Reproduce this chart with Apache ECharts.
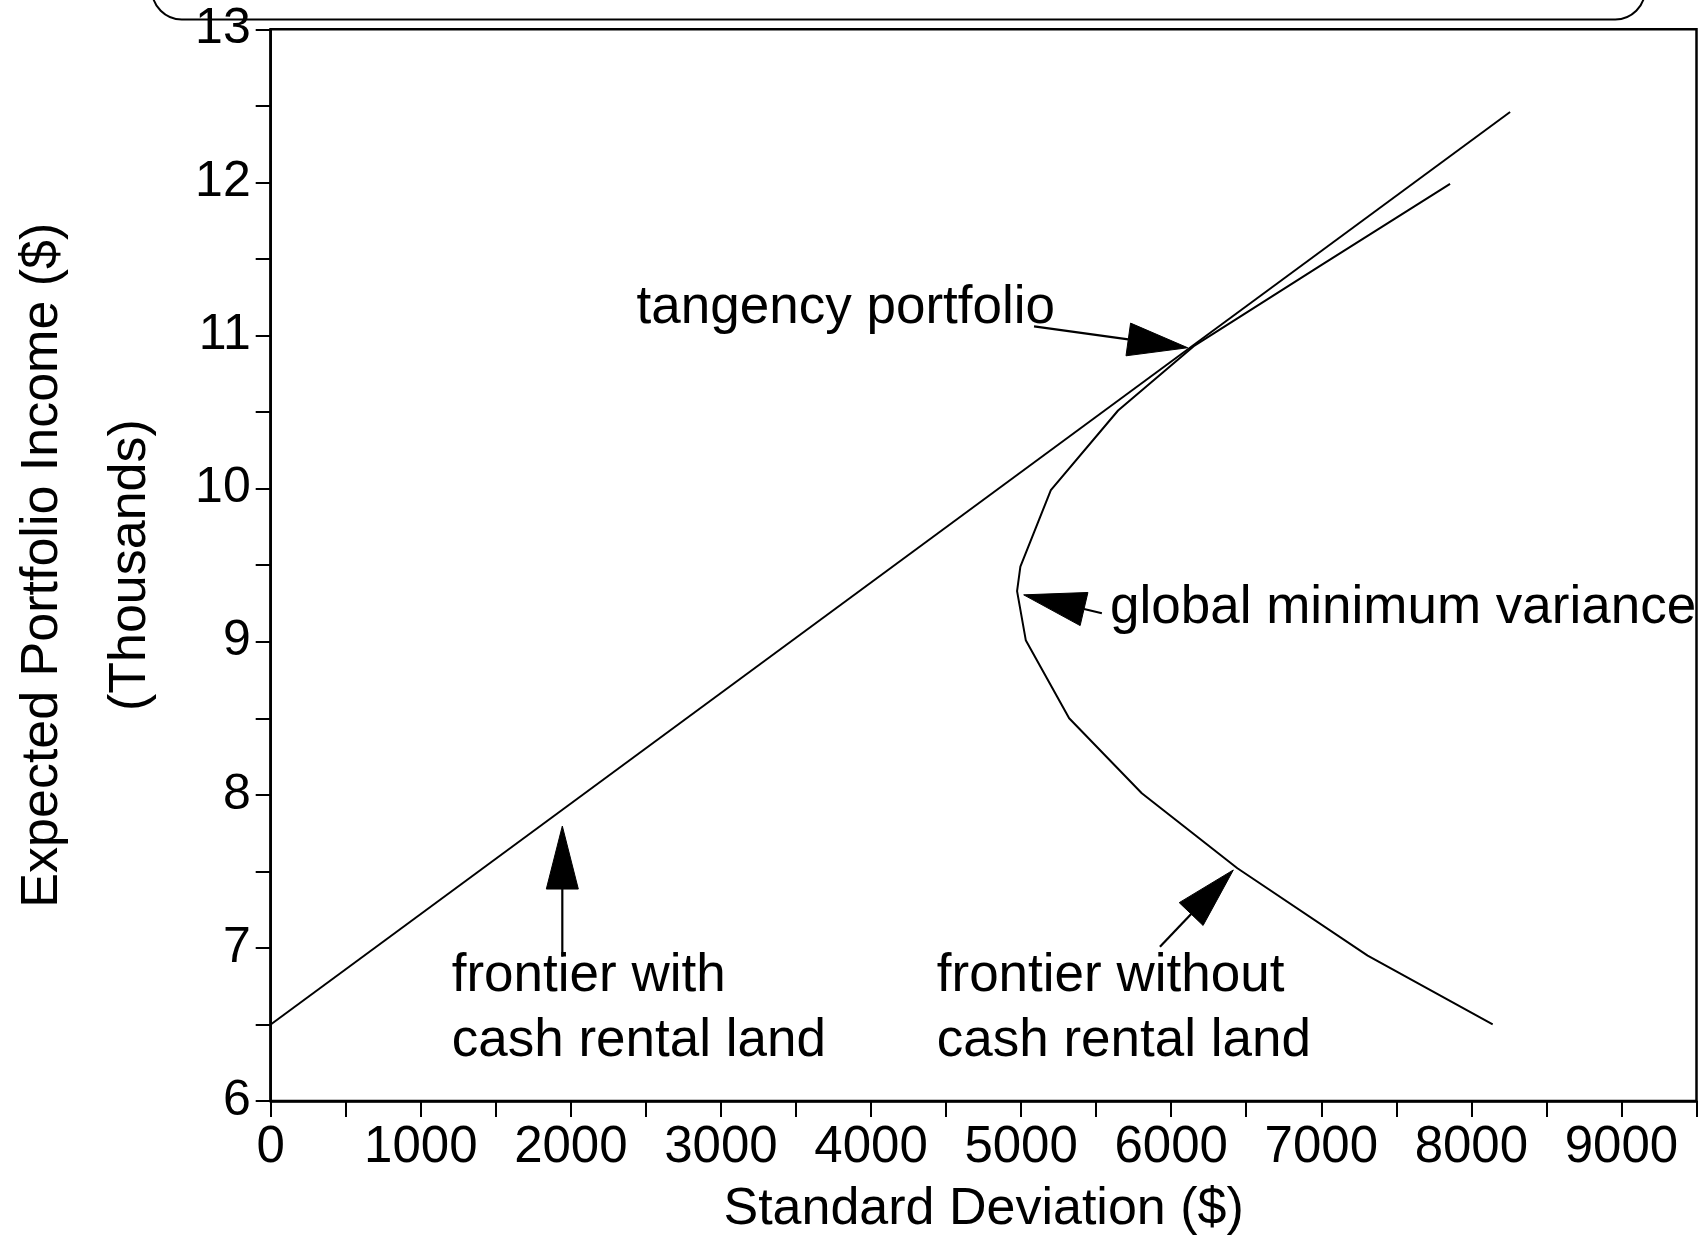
<!DOCTYPE html>
<html>
<head>
<meta charset="utf-8">
<script src="https://cdn.jsdelivr.net/npm/echarts@6/dist/echarts.min.js"></script>
<style>
html,body{margin:0;padding:0;background:#fff;}
#chart{width:1702px;height:1241px;}
</style>
</head>
<body>
<div id="chart"></div>
<script>
// ---- data ----
const xTickValues = [0, 1000, 2000, 3000, 4000, 5000, 6000, 7000, 8000, 9000];
const yTickValues = [6, 7, 8, 9, 10, 11, 12, 13];

// frontier with cash rental land (straight line)
const withLandX = [0, 8258];
const withLandY = [6.5, 12.46];

// frontier without cash rental land
const withoutLandX = [8142, 7309, 6441, 5804, 5320, 5031, 4973, 4995, 5198, 5646, 6150, 6984, 7858];
const withoutLandY = [6.50, 6.95, 7.52, 8.01, 8.50, 9.01, 9.33, 9.49, 9.99, 10.51, 10.93, 11.45, 11.99];

// annotation texts and anchor points (left edge, vertical centre)
const noteTexts = ['tangency portfolio', 'global minimum variance', 'frontier with\ncash rental land', 'frontier without\ncash rental land'];
const noteX = [2438, 5592, 1206, 4438];
const noteY = [11.18, 9.22, 6.60, 6.60];

// arrows: tail -> tip
const arrowTailX = [5086, 5538, 1943, 5925];
const arrowTailY = [11.06, 9.186, 6.943, 7.008];
const arrowTipX  = [6110, 5017, 1943, 6414];
const arrowTipY  = [10.92, 9.306, 7.796, 7.509];

// ---- chart ----
const FONT = '"Liberation Sans", Arial, Helvetica, sans-serif';
const headW = [33, 34, 32, 33];
const headL = [60, 62, 63, 61];

function zip(a, b) { return a.map((v, i) => [v, b[i]]); }

const chart = echarts.init(document.getElementById('chart'), null, {renderer: 'canvas'});

const option = {
  animation: false,
  backgroundColor: '#fff',
  grid: {
    left: 270.7, right: 5.5, top: 29.3, bottom: 140,
    containLabel: false, outerBoundsMode: 'none',
    show: true, borderColor: '#000', borderWidth: 2.5, backgroundColor: 'transparent'
  },
  xAxis: {
    type: 'value', min: 0, max: 9500, interval: 500,
    name: 'Standard Deviation ($)', nameLocation: 'middle', nameGap: 83,
    nameTextStyle: {fontFamily: FONT, fontSize: 52, color: '#000', lineHeight: 52},
    axisLine: {show: true, onZero: false, lineStyle: {color: '#000', width: 2.5}},
    axisTick: {show: true, length: 16, lineStyle: {color: '#000', width: 2}},
    axisLabel: {
      show: true, margin: 21, fontFamily: FONT, fontSize: 51, color: '#000', lineHeight: 51,
      formatter: v => (xTickValues.indexOf(v) >= 0 ? String(v) : ''),
      showMaxLabel: true, showMinLabel: true
    },
    splitLine: {show: false}
  },
  yAxis: {
    type: 'value', min: 6, max: 13, interval: 0.5,
    name: 'Expected Portfolio Income ($)\n(Thousands)', nameLocation: 'middle', nameGap: 96, nameRotate: 90,
    nameTextStyle: {fontFamily: FONT, fontSize: 52, color: '#000', lineHeight: 88},
    axisLine: {show: true, onZero: false, lineStyle: {color: '#000', width: 2.5}},
    axisTick: {show: true, length: 15, lineStyle: {color: '#000', width: 2}},
    axisLabel: {
      show: true, margin: 20, fontFamily: FONT, fontSize: 50, color: '#000',
      formatter: v => (yTickValues.indexOf(v) >= 0 ? String(v) : '')
    },
    splitLine: {show: false}
  },
  series: [
    {
      name: 'frontier with cash rental land', type: 'line',
      data: zip(withLandX, withLandY), showSymbol: false, symbol: 'none',
      lineStyle: {color: '#000', width: 2}, silent: true
    },
    {
      name: 'frontier without cash rental land', type: 'line',
      data: zip(withoutLandX, withoutLandY), showSymbol: false, symbol: 'none',
      lineStyle: {color: '#000', width: 2}, silent: true
    },
    {
      name: 'arrows', type: 'custom', silent: true,
      data: arrowTailX.map((v, i) => [v, arrowTailY[i], arrowTipX[i], arrowTipY[i]]),
      encode: {x: [0, 2], y: [1, 3]},
      renderItem: function (params, api) {
        const i = params.dataIndex;
        const p1 = api.coord([api.value(0), api.value(1)]);
        const p2 = api.coord([api.value(2), api.value(3)]);
        const dx = p2[0] - p1[0], dy = p2[1] - p1[1];
        const len = Math.sqrt(dx * dx + dy * dy);
        const ux = dx / len, uy = dy / len;
        const nx = -uy, ny = ux;
        const L = headL[i], W = headW[i];
        const bx = p2[0] - ux * L, by = p2[1] - uy * L;
        return {
          type: 'group',
          children: [
            {type: 'line', shape: {x1: p1[0], y1: p1[1], x2: bx, y2: by},
             style: {stroke: '#000', lineWidth: 2.2}},
            {type: 'polygon', shape: {points: [[p2[0], p2[1]], [bx + nx * W / 2, by + ny * W / 2], [bx - nx * W / 2, by - ny * W / 2]]},
             style: {fill: '#000', stroke: '#000', lineWidth: 1}}
          ]
        };
      }
    },
    {
      name: 'notes', type: 'custom', silent: true,
      data: noteTexts.map((t, i) => [noteX[i], noteY[i], i]),
      encode: {x: 0, y: 1},
      renderItem: function (params, api) {
        const p = api.coord([api.value(0), api.value(1)]);
        return {
          type: 'text', x: p[0], y: p[1],
          style: {
            text: noteTexts[params.dataIndex],
            fill: '#000', fontFamily: FONT, fontSize: 53, lineHeight: 65,
            align: 'left', verticalAlign: 'middle'
          }
        };
      }
    }
  ],
  graphic: [
    {
      type: 'rect', z: 100, silent: true,
      shape: {x: 152, y: -40, width: 1493, height: 59.5, r: 40},
      style: {fill: 'transparent', stroke: '#000', lineWidth: 2}
    }
  ]
};

chart.setOption(option);
</script>
</body>
</html>
